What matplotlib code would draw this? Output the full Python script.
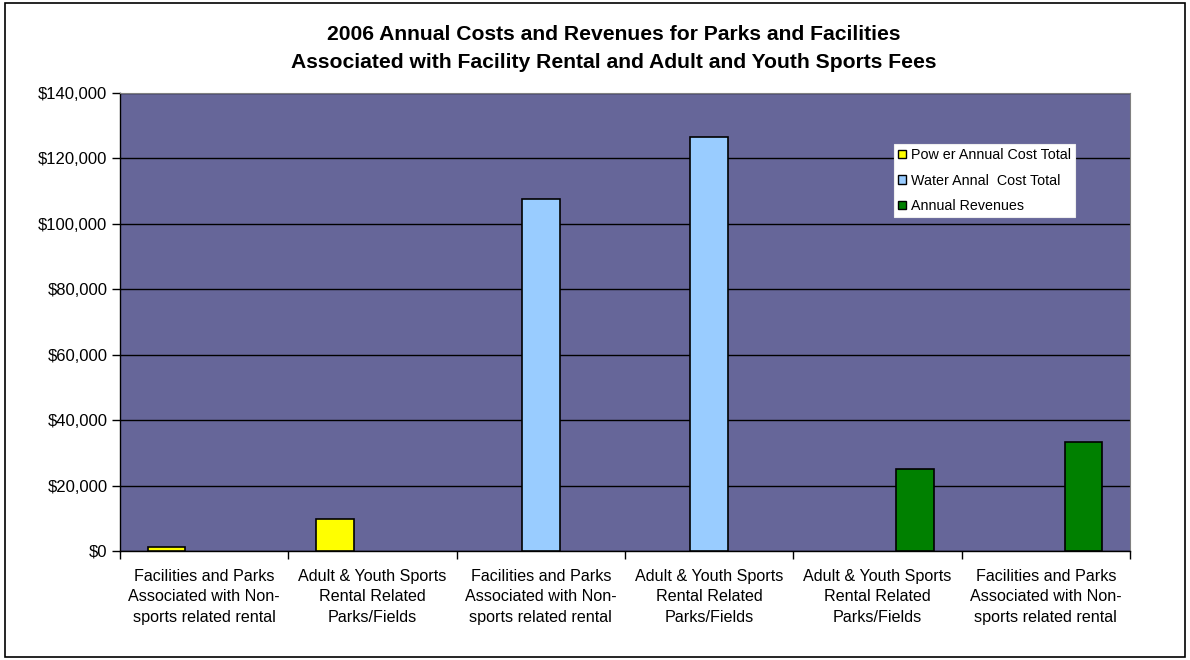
import matplotlib
matplotlib.use("Agg")
import matplotlib.pyplot as plt
import numpy as np
from matplotlib.ticker import FuncFormatter, FixedLocator
from matplotlib.patches import Rectangle

plt.rcParams['font.family'] = ['Liberation Sans', 'DejaVu Sans']

categories = [
    "Facilities and Parks\nAssociated with Non-\nsports related rental",
    "Adult & Youth Sports\nRental Related\nParks/Fields",
    "Facilities and Parks\nAssociated with Non-\nsports related rental",
    "Adult & Youth Sports\nRental Related\nParks/Fields",
    "Adult & Youth Sports\nRental Related\nParks/Fields",
    "Facilities and Parks\nAssociated with Non-\nsports related rental",
]
series_names = ["Pow er Annual Cost Total", "Water Annal  Cost Total", "Annual Revenues"]
power = [1300, 9800, 0, 0, 0, 0]
water = [0, 0, 107700, 126500, 0, 0]
revenue = [0, 0, 0, 0, 25000, 33200]
colors = ["#FFFF00", "#99CCFF", "#008000"]
yticks = [0, 20000, 40000, 60000, 80000, 100000, 120000, 140000]

fig = plt.figure(figsize=(11.9, 6.6), dpi=100)
fig.patches.append(Rectangle((0.004, 0.004), 0.992, 0.992, transform=fig.transFigure,
                             fill=False, edgecolor="black", linewidth=1.2))
ax = fig.add_axes([0.1008, 0.1652, 0.8488, 0.6939])
ax.set_facecolor("#666699")

n = len(categories)
x = np.arange(n)
w = 1 / 4.5
for i, (vals, name, c) in enumerate(zip([power, water, revenue], series_names, colors)):
    xs = x + (i - 1) * w
    mask = [v > 0 for v in vals]
    ax.bar(xs[mask], np.array(vals)[mask], width=w, color=c, edgecolor="black",
           linewidth=1.2, zorder=3)
    ax.bar([np.nan], [0], width=w, color=c, edgecolor="black", linewidth=1.0, label=name)

ax.set_xlim(-0.5, n - 0.5)
ax.set_ylim(0, 140000)
ax.set_yticks(yticks)
ax.yaxis.set_major_formatter(FuncFormatter(lambda v, p: f"${v:,.0f}"))
ax.grid(axis="y", color="black", linewidth=1.0, zorder=1)
ax.set_axisbelow(True)

ax.set_xticks(x)
ax.set_xticklabels(categories, fontsize=11.6, linespacing=1.45)
ax.tick_params(axis="x", which="major", length=0, pad=13)
ax.xaxis.set_minor_locator(FixedLocator(np.arange(-0.5, n, 1.0)))
ax.tick_params(axis="x", which="minor", length=6, width=1, color="black")
ax.tick_params(axis="y", length=6, width=1, labelsize=12, pad=3)

for s in ["top", "right"]:
    ax.spines[s].set_color("#808080")
for s in ["left", "bottom"]:
    ax.spines[s].set_color("black")
    ax.spines[s].set_linewidth(1.0)

leg = ax.legend(loc="upper left", bbox_to_anchor=(0.766, 0.889), fontsize=10.3,
                frameon=True, fancybox=False, framealpha=1, edgecolor="#eeeeee",
                handlelength=0.55, handleheight=0.55, handletextpad=0.35,
                borderpad=0.3, labelspacing=0.8, borderaxespad=0)
leg.get_frame().set_linewidth(0.8)

fig.text(0.516, 0.9265, "2006 Annual Costs and Revenues for Parks and Facilities\n"
         "Associated with Facility Rental and Adult and Youth Sports Fees",
         ha="center", va="center", fontsize=15.2, fontweight="bold", linespacing=1.56)

fig.savefig("out.png", dpi=100)
